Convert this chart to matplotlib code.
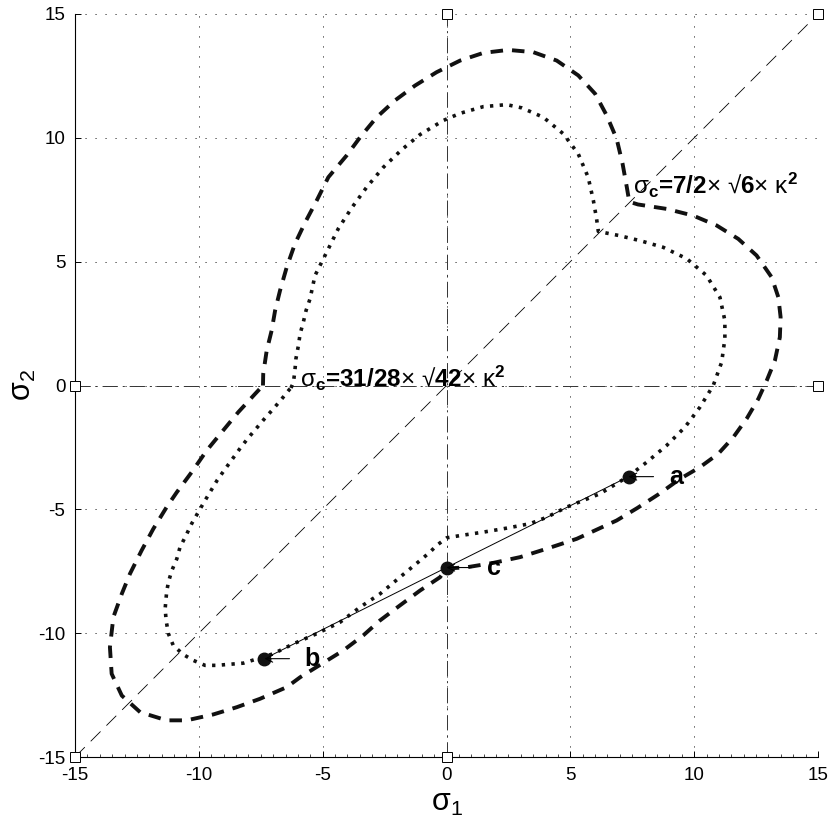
import numpy as np
import matplotlib
matplotlib.use('Agg')
import matplotlib.pyplot as plt

plt.rcParams['font.family'] = ['Liberation Sans', 'DejaVu Sans']
plt.rcParams['mathtext.fontset'] = 'custom'
plt.rcParams['mathtext.rm'] = 'Liberation Sans'
plt.rcParams['mathtext.it'] = 'Liberation Sans:italic'
plt.rcParams['mathtext.bf'] = 'Liberation Sans:bold'
plt.rcParams['mathtext.default'] = 'rm'
plt.rcParams['axes.unicode_minus'] = False
plt.rcParams['lines.scale_dashes'] = False

# outer yield curve (dashed), sigma_1 / sigma_2
outer_s1 = [-7.41, -7.40, -7.26, -7.06, -6.92, -6.72, -6.45, -6.12, -5.71, -5.24, -4.77, -4.03, -3.49,
            -2.82, -2.08, -1.27, -0.40, 0.55, 1.49, 2.49, 3.50, 4.45, 5.32, 6.00, 6.47, 6.87,
            7.11, 7.28, 7.38, 7.73, 8.89, 9.96, 10.91, 11.78, 12.52, 13.13, 13.40, 13.49, 13.46,
            13.26, 12.93, 12.59, 12.12, 11.58, 10.97, 10.23, 9.43, 8.55, 7.70, 6.87, 5.26, 4.05, 2.97,
            1.90, 0.82, 0.0, -0.26, -1.07, -1.88, -2.69, -3.36, -4.17, -5.04, -5.91, -6.45, -7.53,
            -8.47, -9.41, -10.49, -11.30, -12.37, -13.11, -13.52, -13.59, -13.45, -13.11, -12.78,
            -12.31, -11.84, -11.30, -10.89, -10.29, -9.68, -9.08, -8.41, -7.73, -7.41]
outer_s2 = [0.0, 0.47, 1.41, 2.22, 3.03, 3.84, 4.78, 5.72, 6.58, 7.47, 8.41, 9.29, 10.02,
            10.83, 11.51, 12.11, 12.65, 13.12, 13.43, 13.55, 13.46, 13.12, 12.52, 11.78, 10.90, 9.96,
            8.95, 8.01, 7.42, 7.31, 7.13, 6.86, 6.46, 5.92, 5.25, 4.37, 3.56, 2.76, 1.95,
            1.01, 0.20, -0.54, -1.34, -2.09, -2.76, -3.30, -3.77, -4.40, -4.95, -5.45, -6.19, -6.59, -6.93,
            -7.16, -7.34, -7.39, -7.74, -8.28, -8.88, -9.49, -10.09, -10.70, -11.24, -11.78, -12.18, -12.65,
            -12.99, -13.28, -13.52, -13.52, -13.19, -12.52, -11.64, -10.57, -9.35, -8.41, -7.60,
            -6.66, -5.79, -4.91, -4.31, -3.50, -2.62, -1.89, -1.08, -0.34, 0.0]

# inner yield curve (dotted)
inner_s1 = [-6.28, -6.18, -6.12, -6.08, -5.98, -5.91, -5.78, -5.67, -5.51, -5.31, -5.04, -4.84,
            -4.37, -3.83, -3.22, -2.55, -1.81, -1.07, -0.13, 0.55, 1.49, 2.43, 3.04, 3.91, 4.72,
            5.32, 5.72, 5.93, 6.06, 6.13, 6.94, 7.81, 8.75, 9.70, 10.50, 11.04, 11.24, 11.24,
            11.11, 10.77, 10.23, 9.63, 8.89, 8.08, 7.34, 6.20, 4.85, 4.05, 3.37, 2.43, 1.49, 0.55,
            0.01, -0.40, -0.67, -1.07, -1.88, -2.68, -3.49, -4.30, -5.24, -6.18, -6.99, -8.20,
            -9.28, -9.75, -10.22, -10.63, -11.03, -11.23, -11.32, -11.36, -11.30, -11.23, -11.09,
            -10.89, -10.76, -10.52, -10.29, -10.06, -9.79, -9.55, -9.25, -8.90, -8.61, -8.30,
            -8.00, -7.66, -7.33, -6.99, -6.65, -6.35, -6.28]
inner_s2 = [-0.10, 0.13, 0.61, 1.08, 1.61, 2.09, 2.56, 3.03, 3.50, 4.44, 4.98, 5.38,
            6.33, 7.17, 8.01, 8.81, 9.52, 10.13, 10.70, 10.99, 11.26, 11.34, 11.21, 10.83, 10.16,
            9.35, 8.41, 7.47, 6.73, 6.22, 6.06, 5.85, 5.58, 5.12, 4.44, 3.56, 2.62, 1.89,
            0.94, 0.0, -0.88, -1.68, -2.42, -3.10, -3.67, -4.37, -4.91, -5.32, -5.58, -5.76, -5.92, -6.06,
            -6.15, -6.46, -6.73, -7.07, -7.74, -8.41, -8.95, -9.56, -10.02, -10.43, -10.83, -11.21,
            -11.30, -11.30, -11.10, -10.86, -10.50, -10.02, -9.49, -9.01, -8.34, -7.94, -7.47,
            -7.00, -6.53, -6.06, -5.58, -5.18, -4.71, -4.31, -3.81, -3.32, -2.92, -2.49,
            -2.11, -1.71, -1.32, -0.94, -0.54, -0.17, -0.10]

# stress points a, c, b on the loading path
pt_names = ['a', 'c', 'b']
pt_s1 = [7.35, 0.0, -7.35]
pt_s2 = [-3.68, -7.35, -11.03]

ticks = [-15, -10, -5, 0, 5, 10, 15]

fig = plt.figure(figsize=(8.33, 8.32), dpi=100)
ax = fig.add_axes([75/833, 1-757/832, 743/833, 743/832])

# reference axes and hydrostatic diagonal
ax.plot([0, 0], [-15, 15], color='#333333', lw=0.7, dashes=(11, 3.5, 1.5, 3.5),
        marker='s', ms=7.5, mfc='white', mec='black', mew=0.7, clip_on=False, zorder=3)
ax.plot([-15, 15], [0, 0], color='#333333', lw=0.7, dashes=(11, 3.5, 1.5, 3.5),
        marker='s', ms=7.5, mfc='white', mec='black', mew=0.7, clip_on=False, zorder=3)
ax.plot([-15, 15], [-15, 15], color='black', lw=0.6, dashes=(10, 6),
        marker='s', ms=7.5, mfc='white', mec='black', mew=0.7, clip_on=False, zorder=3)

ax.plot(outer_s1, outer_s2, color='#111111', lw=2.8, dashes=(9, 6.5), solid_capstyle='butt',
        dash_capstyle='butt', zorder=4)
ax.plot(inner_s1, inner_s2, color='#111111', lw=2.6, dashes=(2.4, 4.6), dash_capstyle='butt',
        zorder=4)

ax.plot(pt_s1, pt_s2, color='black', lw=0.7, zorder=5)
ax.plot(pt_s1, pt_s2, 'o', color='#111111', ms=9, zorder=6)
for name, x, y in zip(pt_names, pt_s1, pt_s2):
    ax.annotate('', xy=(x, y), xytext=(18, 0), textcoords='offset points',
                arrowprops=dict(arrowstyle='->,head_length=0.5,head_width=0.25', lw=0.8,
                                color='black', shrinkA=0, shrinkB=0), zorder=6)
    ax.annotate(name, xy=(x, y), xytext=(29, 0), textcoords='offset points',
                fontsize=18, fontweight='bold', ha='left', va='center', zorder=7)

root = '\u221a'
ax.text(7.55, 7.74, r'$\sigma_{\mathbf{c}}$=7/2$\times$ $' + root + r'$6$\times$ $\kappa^{\mathbf{2}}$',
        fontsize=17.5, fontweight='bold', ha='left', va='baseline', zorder=7)
ax.text(-5.9, -0.07, r'$\sigma_{\mathbf{c}}$=31/28$\times$ $' + root + r'$42$\times$ $\kappa^{\mathbf{2}}$',
        fontsize=17.5, fontweight='bold', ha='left', va='baseline', zorder=7)

ax.set_xlim(-15, 15)
ax.set_ylim(-15, 15)
ax.set_xticks(ticks)
ax.set_yticks(ticks)
ax.set_xticks(np.arange(-15, 15.01, 0.5), minor=True)
ax.tick_params(which='major', direction='in', length=4, width=0.7, labelsize=13.5, pad=7)
ax.tick_params(axis='x', which='minor', direction='in', length=2, width=0.5)
ax.grid(True, which='major', color='black', lw=0.6, dashes=(0.8, 6.4))
ax.spines['top'].set_visible(False)
ax.spines['right'].set_visible(False)
for s in ['left', 'bottom']:
    ax.spines[s].set_linewidth(0.8)

ax.set_xlabel(r'$\sigma_{\mathit{1}}$', fontsize=22, labelpad=3)
ax.set_ylabel(r'$\sigma_{2}$', fontsize=22, labelpad=0)

fig.savefig('out.png', dpi=100)
